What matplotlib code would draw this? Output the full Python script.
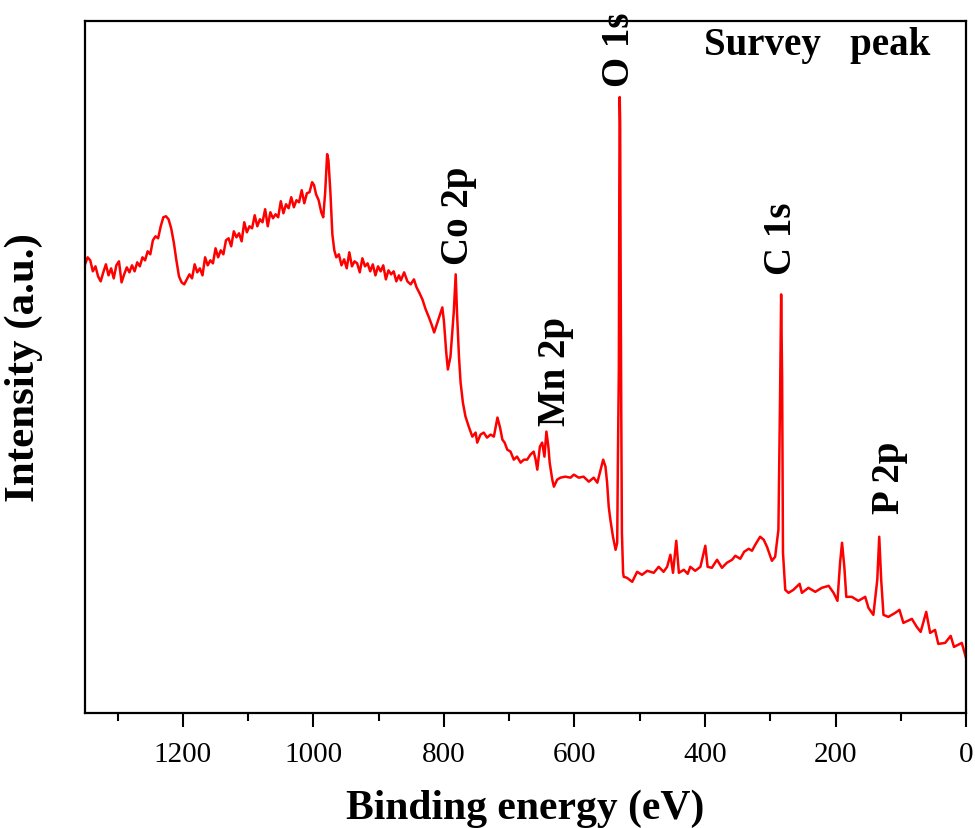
import matplotlib
matplotlib.use("Agg")
import matplotlib.pyplot as plt
from matplotlib.ticker import MultipleLocator

plt.rcParams['font.family'] = ['Liberation Serif', 'DejaVu Serif']

# XPS survey spectrum
binding_energy = [
    1350, 1346, 1342, 1338, 1334, 1330, 1326, 1322, 1318, 1314, 1310, 1306, 1302, 1298,
    1294, 1290, 1286, 1282, 1278, 1274, 1270, 1266, 1262, 1258, 1254, 1250, 1246, 1242,
    1238, 1234, 1230, 1226, 1222, 1218, 1214, 1210, 1206, 1202, 1198, 1194, 1190, 1186,
    1182, 1178, 1174, 1170, 1166, 1162, 1158, 1154, 1150, 1146, 1142, 1138, 1134, 1130,
    1126, 1122, 1118, 1114, 1110, 1106, 1102, 1098, 1094, 1090, 1086, 1082, 1078, 1074,
    1070, 1066, 1062, 1058, 1054, 1050, 1046, 1042, 1038, 1034, 1030, 1026, 1022, 1018,
    1014, 1010, 1006, 1002, 999, 996, 992, 988, 985, 982, 979, 977, 974, 971, 968, 965,
    961, 957, 953, 949, 945, 941, 937, 933, 929, 925, 921, 917, 913, 909, 905, 901, 897,
    893, 889, 885, 881, 877, 873, 869, 866, 861, 856, 851, 846, 842, 838, 833, 828, 823,
    819, 815, 810, 805, 802.5, 800, 796.5, 794, 790, 787, 785, 782, 780, 777, 774.5, 771,
    767, 762, 756.5, 751.5, 749, 744, 739, 734, 728.5, 723.5, 718, 714, 710.5, 707, 703,
    698, 693, 688, 682.5, 677.5, 672.5, 667.5, 662.5, 659.5, 657, 653, 649.5, 646, 643,
    640, 638, 634, 631.5, 626.5, 621.5, 614, 606, 601, 593.5, 586, 578, 570.5, 565, 560,
    556, 552.5, 550, 547.5, 545, 541, 537, 534.5, 533.5, 532, 531.3, 530.7, 530, 529.3,
    528.3, 527.3, 525.5, 524.5, 519.5, 511.5, 504, 496.5, 488.5, 478.5, 471, 463.5, 458,
    453, 449, 444, 440, 432.5, 426.5, 422.5, 415, 407, 399.5, 396, 389.5, 381.5, 374,
    366.5, 358.5, 353.5, 346, 340, 333, 328, 323, 315.5, 310, 305, 297.5, 292.5, 287.5,
    285, 283.3, 281.8, 280.5, 277, 272, 264.5, 255, 251.5, 241.5, 231, 221, 210.5, 203,
    197, 193, 190, 186.5, 183.5, 175, 165, 154.5, 149.5, 142, 136, 133, 130, 126.5, 119,
    108.5, 102, 96, 83, 75.5, 69.5, 61, 55, 47.5, 42.5, 32, 23.5, 18.5, 6.5, 0,
]
intensity = [
    448, 455, 452, 441, 446, 436, 431, 440, 448, 437, 444, 434, 447, 451,
    430, 438, 445, 440, 447, 441, 450, 446, 455, 452, 461, 458, 472, 476,
    474, 486, 495, 496, 493, 484, 470, 452, 436, 430, 428, 433, 438, 434,
    448, 440, 444, 437, 455, 447, 452, 449, 464, 455, 462, 458, 472, 474,
    466, 481, 475, 479, 471, 490, 480, 486, 484, 497, 486, 493, 490, 503,
    486, 500, 494, 498, 495, 511, 499, 508, 504, 515, 505, 512, 510, 522,
    509, 519, 520, 530, 527, 518, 512, 500, 495, 520, 558, 552, 520, 478, 462, 455,
    458, 447, 453, 444, 460, 446, 451, 449, 440, 454, 446, 449, 441, 448, 437, 446, 441,
    447, 433, 442, 438, 441, 431, 437, 432, 440, 431, 428, 433, 425, 420, 413, 403, 395,
    388, 380, 390, 400, 405, 391, 360, 343, 356, 383, 400, 438, 400, 356, 330, 310,
    296, 286, 276, 280, 270, 278, 280, 275, 278, 276, 295, 285, 273, 270, 263,
    261, 253, 256, 250, 253, 253, 258, 261, 253, 243, 266, 270, 256, 281,
    266, 250, 233, 226, 233, 235, 236, 235, 238, 235, 236, 231, 235, 230, 243,
    253, 246, 230, 206, 193, 176, 163, 170, 250, 343, 520, 615, 590, 450,
    300, 180, 140, 136, 135, 131, 141, 138, 142, 140, 146, 141, 146,
    158, 140, 172, 140, 143, 139, 146, 142, 146, 167, 146, 145, 153, 145,
    150, 153, 157, 154, 161, 164, 162, 168, 176, 173, 166, 152, 156, 183,
    313, 418, 333, 160, 123, 120, 123, 129, 120, 125, 121, 125, 127, 120,
    112, 150, 170, 146, 116, 116, 112, 116, 105, 98, 133, 176, 133, 98, 96,
    100, 103, 90, 94, 86, 81, 101, 80, 83, 69, 70, 77, 66, 70, 55,
]

peak_labels = ['O 1s', 'Co 2p', 'Mn 2p', 'C 1s', 'P 2p']
peak_pos = [(530.7, 626), (777, 448), (629, 288), (283, 438), (118, 200)]

fig = plt.figure(figsize=(9.75, 8.29), dpi=100)
ax = fig.add_axes([0.0872, 0.1387, 0.9036, 0.8348])

ax.plot(binding_energy, intensity, color='red', linewidth=1.8)

for name, (xp, yp) in zip(peak_labels, peak_pos):
    ax.text(xp, yp, name, rotation=90, ha='center', va='bottom',
            fontsize=28, fontweight='bold')

ax.text(401, 658, 'Survey   peak', ha='left', va='baseline',
        fontsize=28, fontweight='bold')

ax.set_xlim(1350, 0)
ax.set_ylim(0, 691)
ax.xaxis.set_major_locator(MultipleLocator(200))
ax.xaxis.set_minor_locator(MultipleLocator(100))
ax.set_yticks([])
ax.tick_params(axis='x', which='major', direction='out', length=10, width=1.5,
               labelsize=21, pad=10)
ax.tick_params(axis='x', which='minor', direction='out', length=5.5, width=1.5)
for sp in ax.spines.values():
    sp.set_linewidth(1.6)

ax.set_xlabel('Binding energy (eV)', fontsize=30, fontweight='bold', labelpad=16)
ax.set_ylabel('Intensity (a.u.)', fontsize=31, fontweight='bold', labelpad=30)

fig.savefig('out.png', dpi=100)
